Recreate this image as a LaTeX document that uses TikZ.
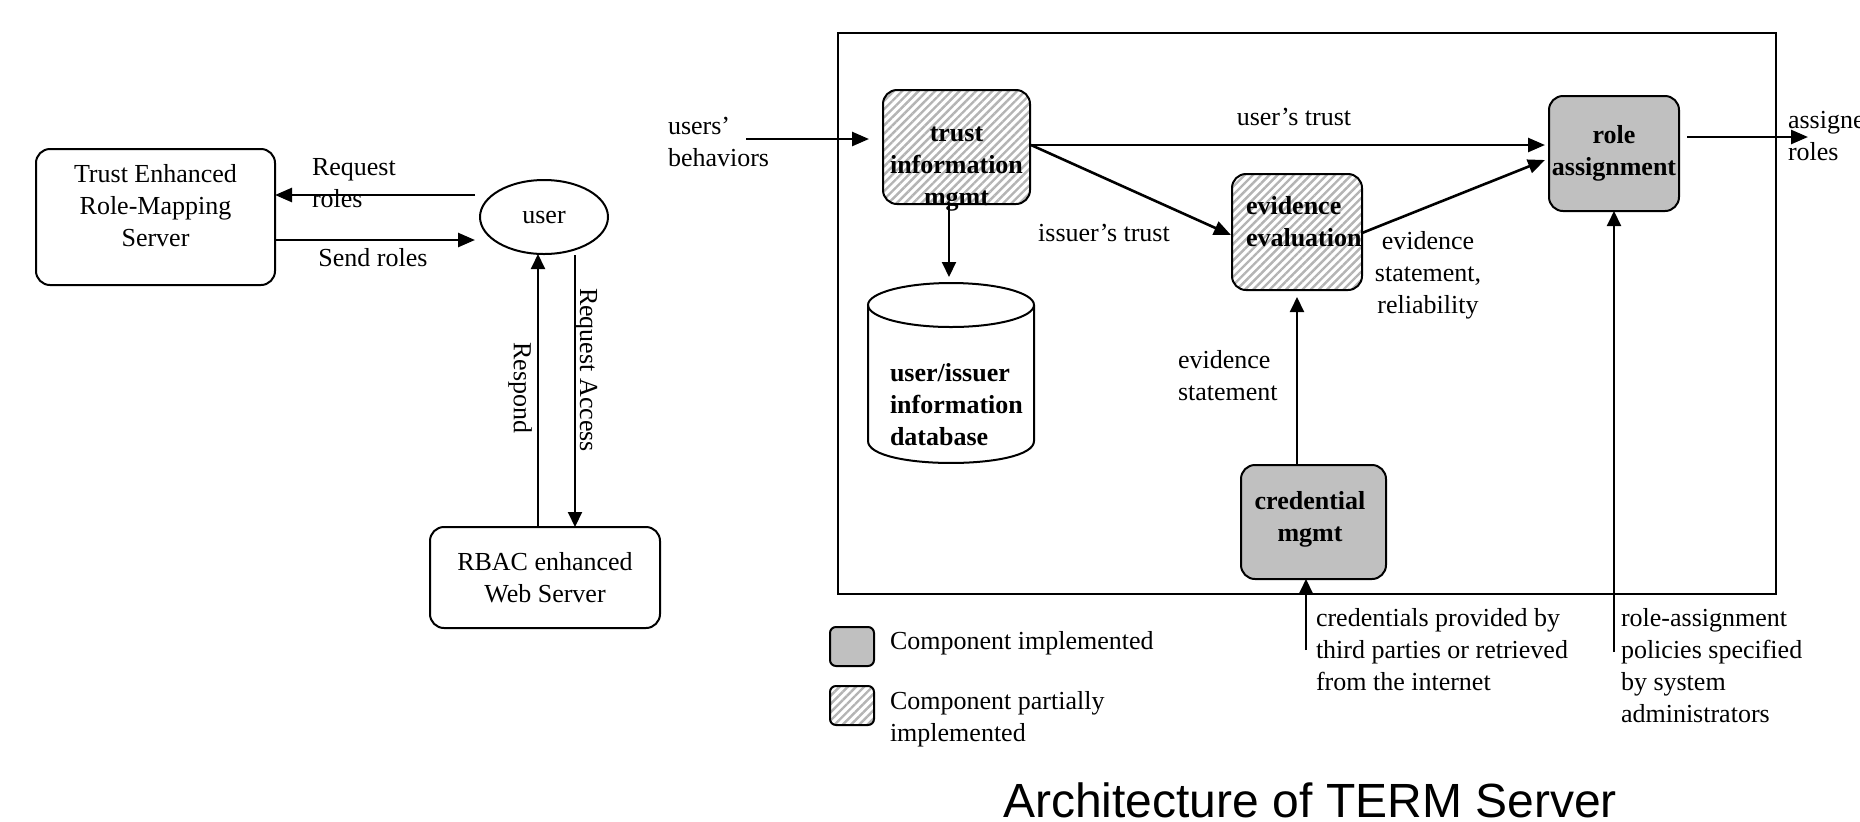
\documentclass[tikz,border=0pt]{standalone}
\usepackage{fontspec}
\setmainfont{Liberation Serif}
\newfontfamily\titlefont{Liberation Sans}
\usetikzlibrary{arrows.meta,patterns.meta,calc,shapes.geometric}
\definecolor{compgray}{RGB}{192,192,192}
\definecolor{hatchgray}{RGB}{180,180,180}
\begin{document}
\begin{tikzpicture}[x=0.5pt,y=-0.5pt,
  every node/.style={font=\fontsize{13}{16}\selectfont, inner sep=0pt, outer sep=0pt},
  rbox/.style={draw, line width=1pt, rounded corners=7pt},
  gbox/.style={draw, line width=1pt, rounded corners=7pt, fill=compgray},
  hbox/.style={draw, line width=1pt, rounded corners=7pt, pattern={Lines[angle=45,distance=2.9pt,line width=1.2pt]}, pattern color=hatchgray},
  arr/.style={-{Triangle[length=7.5pt,width=7pt]}, line width=1pt},
  tarr/.style={-{Triangle[length=8.5pt,width=7pt]}, line width=1.3pt},
  lbl/.style={align=left, anchor=west},
  bl/.style={font=\fontsize{13}{16}\selectfont\bfseries},
]
\useasboundingbox (0,0) rectangle (1860,821);

% ---------- left part ----------
\node[rbox, minimum width=119.5pt, minimum height=68pt] (tems) at (155.5,217) {};
\node[align=center] (temstext) at (155.5,206) {Trust Enhanced\\Role-Mapping\\Server};
\node[ellipse, draw, line width=1pt, minimum width=64pt, minimum height=37pt] (user) at (544,217) {user};
\node[rbox, minimum width=115pt, minimum height=50.5pt, align=center] (rbac) at (545,577.5) {RBAC enhanced\\Web Server};

\coordinate (rrS) at ($(user.west)+(-5,-22)$);
\draw[tarr] (rrS) -- (rrS -| tems.east);
\coordinate (srE) at ($(user.west)+(-5,23)$);
\draw[tarr] (srE -| tems.east) -- (srE);
\coordinate (rsp) at ($(rbac.north)+(-7,0)$);
\draw[arr] (rsp) -- (rsp |- user.south);
\coordinate (rqa) at ($(user.south)+(31,1)$);
\draw[arr] (rqa) -- (rqa |- rbac.north);

\node[lbl] (rrlbl) at (312,183) {Request\\roles};
\node (srlbl) at (373,258) {Send roles};
\node[rotate=-90] (rsplbl) at (520,388) {Respond};
\node[rotate=-90] (rqalbl) at (586,370) {Request Access};

% ---------- right part ----------
\draw[line width=1pt] (838,33) rectangle (1776,594);

\node[hbox, minimum width=73.5pt, minimum height=57pt] (tim) at (956.5,147) {};
\node[bl, align=center] (timtext) at (956.5,169) {trust\\information\\mgmt};
\node[gbox, bl, align=center, minimum width=65pt, minimum height=57.5pt] (role) at (1614,153.5) {role\\assignment};
\node[hbox, minimum width=65pt, minimum height=58pt] (eval) at (1297,232) {};
\node[bl, lbl] (evaltext) at (1246,222) {evidence\\evaluation};
\node[gbox, minimum width=72.5pt, minimum height=57pt] (cred) at (1313.5,522) {};
\node[bl, align=center] (credtext) at (1310,519) {credential\\mgmt};

% database cylinder
\coordinate (dbtop) at (951,283);
\draw[line width=1pt, fill=white] (868,305) -- (868,441) .. controls (868,470.3) and (1034,470.3) .. (1034,441) -- (1034,305);
\draw[line width=1pt] (951,305) ellipse [x radius=83, y radius=22];
\node[bl, lbl] (dbtext) at (890,405) {user/issuer\\information\\database};

% connectors
\node[lbl] (ublbl) at (668,142) {users’\\behaviors};
\coordinate (ub) at ($(tim.west)+(-137,-8)$);
\draw[tarr] (ub) -- ($(tim.west)+(-14,-8)$);

\coordinate (timE) at ($(tim.east)+(1,-2)$);
\draw[tarr] (timE) -- ($(role.west)+(-4,-8.5)$);
\node (utlbl) at (1294,117) {user’s trust};
\draw[tarr] (timE) -- ($(eval.west)+(-1,3)$);
\node (itlbl) at (1104,233) {issuer’s trust};
\draw[tarr] ($(eval.east)+(0,1)$) -- ($(role.west)+(-4,6.5)$);
\node[align=center] (esrlbl) at (1428,275) {evidence\\statement,\\reliability};

\coordinate (timS) at ($(tim.south)+(-7.5,0)$);
\draw[arr, shorten >=3pt] (timS) -- (timS |- dbtop);

\coordinate (credN) at (eval.south |- cred.north);
\draw[arr, shorten >=3.5pt] (credN) -- (eval.south);
\node[lbl] (eslbl) at (1178,376) {evidence\\statement};

\coordinate (credsrc) at (1306,650);
\draw[arr] (credsrc) -- (credsrc |- cred.south);
\node[lbl] (credlbl) at (1316,650) {credentials provided by\\third parties or retrieved\\from the internet};

\coordinate (polsrc) at (1614,652);
\draw[arr] (polsrc) -- (role.south);
\node[lbl] (pollbl) at (1621,666) {role-assignment\\policies specified\\by system\\administrators};

\node[lbl] (outlbl) at (1788,136) {assigned\\roles};
\coordinate (roleE) at ($(role.east)+(8,-16.5)$);
\coordinate (roleout) at (1808,137);
\draw[tarr] (roleE) -- (roleout);

% legend
\node[gbox, rounded corners=3pt, minimum width=22pt, minimum height=19.5pt] (leg1) at (852,646.5) {};
\node[lbl] (leg1t) at (890,643) {Component implemented};
\node[hbox, rounded corners=3pt, minimum width=22pt, minimum height=19.5pt] (leg2) at (852,705.5) {};
\node[lbl] (leg2t) at (890,719) {Component partially\\implemented};

% title
\node[font=\titlefont\fontsize{24}{28}\selectfont] (title) at (1310,800) {Architecture of TERM Server};
\end{tikzpicture}
\end{document}
